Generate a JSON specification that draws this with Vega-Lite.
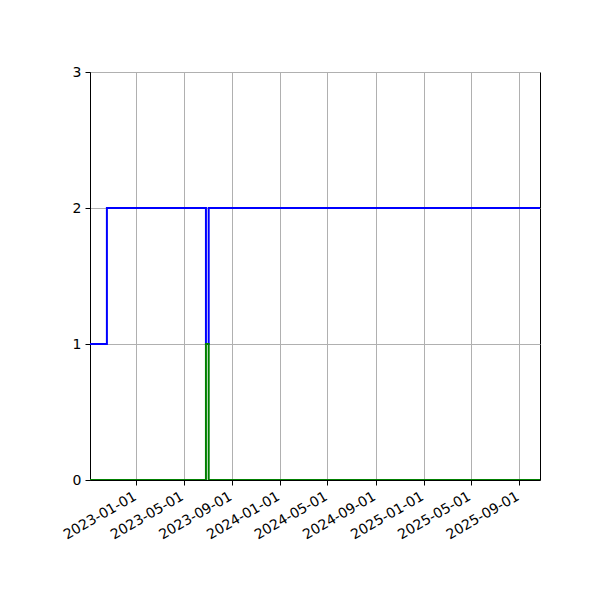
{
  "$schema": "https://vega.github.io/schema/vega-lite/v6.json",
  "autosize": {"type": "none"},
  "padding": {"left": 90, "top": 72, "right": 60, "bottom": 120},
  "width": 450,
  "height": 408,
  "background": "white",
  "config": {
    "font": "DejaVu Sans",
    "view": {"stroke": "black", "strokeWidth": 1},
    "axis": {
      "labelFont": "DejaVu Sans",
      "labelFontSize": 14,
      "labelColor": "black",
      "labelOverlap": false,
      "domainColor": "black",
      "tickColor": "black",
      "tickSize": 5,
      "gridColor": "#b0b0b0",
      "gridWidth": 1,
      "gridOpacity": 1,
      "title": null
    }
  },
  "datasets": {
    "blue": [
      {"date": "2022-09-05", "value": 1},
      {"date": "2022-10-18", "value": 2},
      {"date": "2023-06-27", "value": 1},
      {"date": "2023-07-04", "value": 2},
      {"date": "2025-10-24", "value": 2}
    ],
    "green": [
      {"date": "2022-09-05", "value": 0},
      {"date": "2023-06-27", "value": 1},
      {"date": "2023-07-04", "value": 0},
      {"date": "2025-10-24", "value": 0}
    ]
  },
  "encoding": {
    "x": {
      "field": "date",
      "type": "temporal",
      "scale": {"type": "utc", "domain": ["2022-09-05", "2025-10-24"], "nice": false},
      "axis": {
        "format": "%Y-%m-%d",
        "labelAngle": -30,
        "labelAlign": "right",
        "labelBaseline": "top",
        "labelPadding": 4,
        "labelOffset": -5,
        "values": [
          {"year": 2023, "month": 1, "date": 1, "utc": true},
          {"year": 2023, "month": 5, "date": 1, "utc": true},
          {"year": 2023, "month": 9, "date": 1, "utc": true},
          {"year": 2024, "month": 1, "date": 1, "utc": true},
          {"year": 2024, "month": 5, "date": 1, "utc": true},
          {"year": 2024, "month": 9, "date": 1, "utc": true},
          {"year": 2025, "month": 1, "date": 1, "utc": true},
          {"year": 2025, "month": 5, "date": 1, "utc": true},
          {"year": 2025, "month": 9, "date": 1, "utc": true}
        ]
      }
    },
    "y": {
      "field": "value",
      "type": "quantitative",
      "scale": {"domain": [0, 3], "nice": false},
      "axis": {"values": [0, 1, 2, 3], "labelPadding": 4}
    }
  },
  "layer": [
    {
      "data": {"name": "blue"},
      "mark": {"type": "line", "interpolate": "step-after", "color": "#0000ff", "strokeWidth": 2, "clip": true}
    },
    {
      "data": {"name": "green"},
      "mark": {"type": "line", "interpolate": "step-after", "color": "#008000", "strokeWidth": 2, "clip": true}
    }
  ]
}
